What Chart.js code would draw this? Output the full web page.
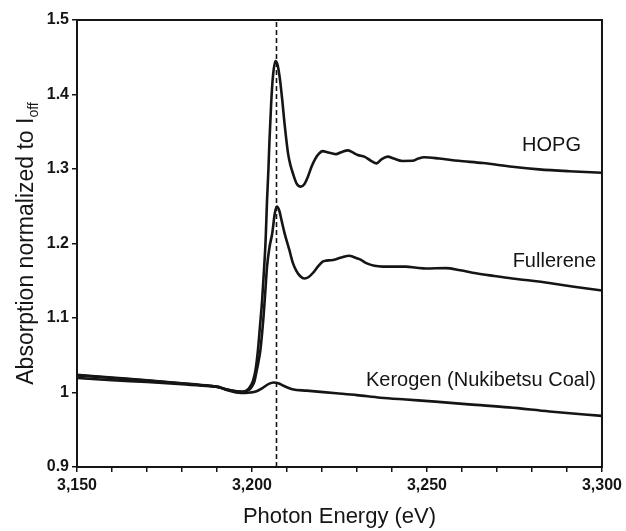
<!DOCTYPE html>
<html>
<head>
<meta charset="utf-8">
<script src="https://cdn.jsdelivr.net/npm/chart.js@4/dist/chart.umd.min.js"></script>
<style>
  html, body { margin: 0; padding: 0; background: #fff; }
  canvas { display: block; }
</style>
</head>
<body>
<canvas id="xanes" width="626" height="531"></canvas>
<script>
// Photon energy (eV) and normalized absorption for each sample
const hopgEnergy = [3150, 3160, 3170, 3180, 3188, 3190.5, 3192, 3195, 3197, 3198.5, 3199.5, 3200.3, 3201, 3201.7, 3202.3, 3202.9, 3203.5, 3203.9, 3204.3, 3204.7, 3205.0, 3205.5, 3206.0, 3206.7, 3207.3, 3208.0, 3208.7, 3209.3, 3210.3, 3211.0, 3211.7, 3212.8, 3213.9, 3215.0, 3216.0, 3217.0, 3218.0, 3219.0, 3220.2, 3221.5, 3222.5, 3224.0, 3225.5, 3227.4, 3228.5, 3230.2, 3232.1, 3234.0, 3235.6, 3237.0, 3238.8, 3240.5, 3243.0, 3245.9, 3247.5, 3249.2, 3253.5, 3259.0, 3266, 3274.4, 3282, 3290.6, 3300];
const hopgAbs = [1.0236, 1.0200, 1.0165, 1.0125, 1.0090, 1.0075, 1.0050, 1.0020, 1.0010, 1.0030, 1.0080, 1.0160, 1.0300, 1.0570, 1.0900, 1.1240, 1.1700, 1.2050, 1.2580, 1.3000, 1.3390, 1.3900, 1.4250, 1.4450, 1.4400, 1.4200, 1.3900, 1.3610, 1.3210, 1.3050, 1.2940, 1.2800, 1.2763, 1.2800, 1.2900, 1.3030, 1.3130, 1.3200, 1.3240, 1.3225, 1.3215, 1.3200, 1.3225, 1.3250, 1.3230, 1.3188, 1.3166, 1.3110, 1.3076, 1.3130, 1.3166, 1.3140, 1.3108, 1.3110, 1.3140, 1.3157, 1.3140, 1.3110, 1.3080, 1.3030, 1.2995, 1.2970, 1.2950];

const fullereneEnergy = [3150, 3160, 3170, 3180, 3188, 3190.5, 3192, 3195, 3197.5, 3199, 3200, 3200.7, 3201.2, 3201.8, 3202.4, 3203.3, 3203.8, 3204.3, 3205.0, 3205.8, 3206.5, 3207.1, 3207.8, 3208.5, 3209.3, 3210.7, 3211.6, 3212.6, 3213.8, 3215.0, 3216.2, 3217.5, 3219.0, 3220.2, 3221.2, 3222.5, 3224.0, 3226.0, 3227.8, 3229.0, 3230.7, 3233.0, 3235.0, 3237.3, 3240.5, 3244.0, 3247.0, 3249.7, 3255.4, 3259.5, 3264.0, 3269, 3274.4, 3280, 3285.4, 3292, 3300];
const fullereneAbs = [1.0230, 1.0195, 1.0160, 1.0120, 1.0088, 1.0072, 1.0050, 1.0020, 1.0010, 1.0030, 1.0080, 1.0150, 1.0260, 1.0400, 1.0570, 1.1020, 1.1350, 1.1690, 1.1950, 1.2140, 1.2400, 1.2495, 1.2440, 1.2300, 1.2140, 1.1910, 1.1750, 1.1640, 1.1560, 1.1530, 1.1550, 1.1610, 1.1700, 1.1756, 1.1770, 1.1775, 1.1790, 1.1820, 1.1835, 1.1820, 1.1790, 1.1730, 1.1700, 1.1690, 1.1690, 1.1690, 1.1675, 1.1665, 1.1670, 1.1640, 1.1600, 1.1565, 1.1530, 1.1500, 1.1466, 1.1420, 1.1370];

const kerogenEnergy = [3150, 3160, 3170, 3180, 3188, 3190.5, 3193, 3196.8, 3199.5, 3201.1, 3203, 3204.8, 3206.2, 3207.5, 3209.0, 3211.5, 3215.6, 3224.1, 3230, 3236.7, 3244, 3252.4, 3262, 3273.4, 3285, 3300];
const kerogenAbs = [1.0196, 1.0165, 1.0140, 1.0110, 1.0085, 1.0072, 1.0030, 0.9993, 1.0000, 1.0013, 1.0060, 1.0115, 1.0134, 1.0125, 1.0090, 1.0043, 1.0025, 0.9990, 0.9965, 0.9930, 0.9905, 0.9878, 0.9840, 0.9800, 0.9745, 0.9686];

// White-line reference energy (dashed marker)
const markerEnergy = 3207;

// Axis ranges and tick steps
const xRange = [3150, 3300];
const xMinorStep = 10;
const xLabelStep = 50;
const yRange = [0.9, 1.5];
const yStep = 0.1;

const seriesNames = ['HOPG', 'Fullerene', 'Kerogen (Nukibetsu Coal)'];

function toPoints(xs, ys) {
  return xs.map((x, i) => ({ x: x, y: ys[i] }));
}

const INK = '#151515';
const FONT = '"Liberation Sans", Arial, Helvetica, sans-serif';

// Curve labels placed in data coordinates, right-aligned
const curveLabels = [
  { text: seriesNames[0], x: 3294, y: 1.331 },
  { text: seriesNames[1], x: 3298.3, y: 1.176 },
  { text: seriesNames[2], x: 3298.3, y: 1.016 }
];

const frameAndLabels = {
  id: 'frameAndLabels',
  afterDatasetsDraw(chart) {
    const { ctx, chartArea: a, scales } = chart;
    ctx.save();
    ctx.strokeStyle = INK;
    ctx.lineWidth = 2;
    ctx.strokeRect(a.left, a.top, a.right - a.left, a.bottom - a.top);

    ctx.fillStyle = INK;
    ctx.font = '20px ' + FONT;
    ctx.textAlign = 'right';
    ctx.textBaseline = 'middle';
    curveLabels.forEach(l => {
      ctx.fillText(l.text, scales.x.getPixelForValue(l.x), scales.y.getPixelForValue(l.y));
    });

    // Y-axis title with subscript
    const main = 'Absorption normalized to I';
    const sub = 'off';
    ctx.font = '23px ' + FONT;
    const wMain = ctx.measureText(main).width;
    ctx.font = '14px ' + FONT;
    const wSub = ctx.measureText(sub).width;
    const total = wMain + wSub;
    ctx.translate(27, (a.top + a.bottom) / 2);
    ctx.rotate(-Math.PI / 2);
    ctx.textAlign = 'left';
    ctx.textBaseline = 'middle';
    ctx.font = '23px ' + FONT;
    ctx.fillText(main, -total / 2, 0);
    ctx.font = '14px ' + FONT;
    ctx.fillText(sub, -total / 2 + wMain, 7);
    ctx.restore();
  }
};

const lineStyle = {
  borderColor: INK,
  borderWidth: 2.6,
  pointRadius: 0,
  fill: false,
  cubicInterpolationMode: 'monotone'
};

new Chart(document.getElementById('xanes'), {
  type: 'line',
  data: {
    datasets: [
      Object.assign({ label: seriesNames[0], data: toPoints(hopgEnergy, hopgAbs) }, lineStyle),
      Object.assign({ label: seriesNames[1], data: toPoints(fullereneEnergy, fullereneAbs) }, lineStyle),
      Object.assign({ label: seriesNames[2], data: toPoints(kerogenEnergy, kerogenAbs) }, lineStyle),
      {
        label: 'marker',
        data: [{ x: markerEnergy, y: yRange[0] }, { x: markerEnergy, y: yRange[1] }],
        borderColor: INK,
        borderWidth: 1.6,
        borderDash: [5, 3],
        pointRadius: 0,
        fill: false
      }
    ]
  },
  options: {
    responsive: false,
    animation: false,
    devicePixelRatio: 1,
    layout: { padding: { top: 20, right: 23, left: 0, bottom: 0 } },
    plugins: { legend: { display: false }, tooltip: { enabled: false } },
    scales: {
      x: {
        type: 'linear',
        min: xRange[0],
        max: xRange[1],
        afterFit(scale) { scale.height = 64; },
        ticks: {
          stepSize: xMinorStep,
          autoSkip: false,
          maxRotation: 0,
          padding: 4,
          color: INK,
          font: { family: FONT, size: 16, weight: 'bold' },
          callback: v => (v % xLabelStep === 0 ? v.toLocaleString('en-US') : '')
        },
        grid: { drawOnChartArea: false, drawTicks: true, tickLength: 5, color: INK, lineWidth: 1.5 },
        border: { display: true, color: INK, width: 2 },
        title: {
          display: true,
          text: 'Photon Energy (eV)',
          color: INK,
          font: { family: FONT, size: 22 },
          padding: { top: 0, bottom: 1 }
        }
      },
      y: {
        type: 'linear',
        min: yRange[0],
        max: yRange[1],
        afterFit(scale) { scale.width = 77; },
        ticks: {
          stepSize: yStep,
          padding: 3,
          color: INK,
          font: { family: FONT, size: 16, weight: 'bold' },
          callback: v => String(Number(v.toFixed(1)))
        },
        grid: { drawOnChartArea: false, drawTicks: true, tickLength: 5, color: INK, lineWidth: 1.5 },
        border: { display: true, color: INK, width: 2 }
      }
    }
  },
  plugins: [frameAndLabels]
});
</script>
</body>
</html>
